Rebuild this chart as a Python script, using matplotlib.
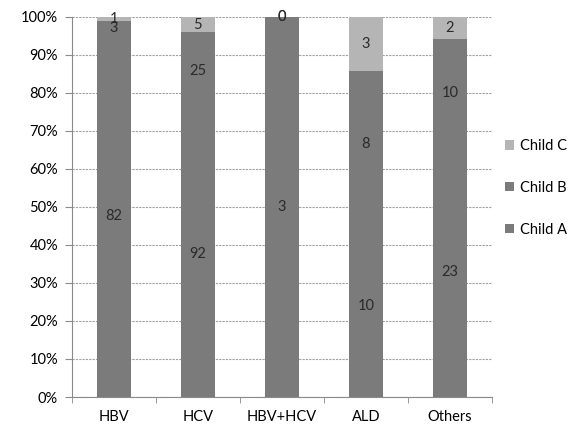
import numpy as np
import matplotlib.pyplot as plt

plt.rcParams['font.family'] = ['Lato', 'DejaVu Sans']

categories = ['HBV', 'HCV', 'HBV+HCV', 'ALD', 'Others']
child_a = [82, 92, 3, 10, 23]
child_b = [3, 25, 0, 8, 10]
child_c = [1, 5, 0, 3, 2]

series = [('Child A', child_a, '#7b7b7b'),
          ('Child B', child_b, '#7b7b7b'),
          ('Child C', child_c, '#b5b5b5')]

totals = np.array(child_a) + np.array(child_b) + np.array(child_c)
x = np.arange(len(categories))

fig = plt.figure(figsize=(5.8, 4.32), dpi=100, facecolor='white')
ax = fig.add_axes([0.124, 0.081, 0.724, 0.88])

bottom = np.zeros(len(categories))
handles = []
for name, vals, color in series:
    share = np.array(vals) / totals * 100
    h = ax.bar(x, share, width=0.4, bottom=bottom, color=color, label=name, zorder=2)
    handles.append(h)
    for xi, b, s, v in zip(x, bottom, share, vals):
        ax.text(xi, b + s / 2, str(v), ha='center', va='center',
                fontsize=10.5, color='#2a2a2a', zorder=3)
    bottom += share

ax.set_xlim(-0.5, len(categories) - 0.5)
ax.set_ylim(0, 100)
ax.set_yticks(np.arange(0, 101, 10))
ax.set_yticklabels([f'{v}%' for v in range(0, 101, 10)])
ax.set_xticks(x)
ax.set_xticklabels(categories)
ax.set_xticks(np.arange(-0.5, len(categories)), minor=True)

ax.grid(axis='y', color='#a0a0a0', linestyle=(0, (2, 1)), linewidth=0.8, zorder=0)
for side in ['top', 'right']:
    ax.spines[side].set_visible(False)
for side in ['left', 'bottom']:
    ax.spines[side].set_color('#8a8a8a')
    ax.spines[side].set_linewidth(0.8)

ax.tick_params(axis='y', length=5, color='#8a8a8a', labelsize=10.5, pad=5)
ax.tick_params(axis='x', which='major', length=0, labelsize=10.5, pad=9)
ax.tick_params(axis='x', which='minor', length=4, color='#8a8a8a')

ax.legend(handles[::-1], [s[0] for s in series][::-1], loc='center left',
          bbox_to_anchor=(1.0, 0.55), frameon=False, fontsize=10.5,
          handlelength=0.6, handleheight=0.6, handletextpad=0.4,
          labelspacing=1.9)

fig.savefig('out.png', dpi=100, facecolor='white')
